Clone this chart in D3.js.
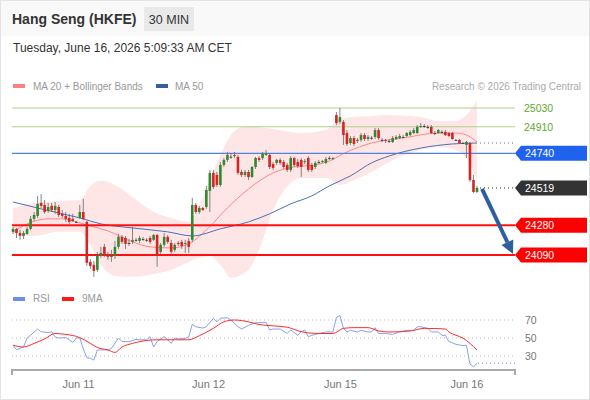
<!DOCTYPE html>
<html>
<head>
<script src="https://cdn.jsdelivr.net/npm/d3@7"></script>
<style>
    body { margin: 0; background: #fff; font-family: 'Liberation Sans', Arial, sans-serif; }
    svg { display: block; }
</style>
</head>
<body>
<div id="chart"></div>
<script>
// 30 min bars, [open, high, low, close]
var candles = [
    [24238,24270,24225,24257],[24257,24263,24199,24231],[24231,24250,24187,24212],[24212,24244,24193,24231],
    [24225,24270,24218,24257],[24257,24340,24250,24321],[24321,24365,24308,24346],[24340,24468,24327,24417],
    [24423,24480,24391,24404],[24410,24442,24353,24365],[24372,24423,24359,24397],[24404,24423,24365,24378],
    [24378,24429,24353,24404],[24397,24410,24333,24346],[24353,24378,24327,24340],[24340,24365,24302,24321],
    [24327,24353,24289,24302],[24321,24353,24302,24308],[24302,24308,24295,24300],[24327,24410,24321,24365],
    [24365,24449,24314,24321],[24302,24308,24020,24040],[24046,24065,24001,24020],[24027,24052,23950,23988],
    [23995,24110,23982,24084],[24084,24142,24072,24103],[24142,24161,24078,24091],[24091,24110,24059,24078],
    [24078,24123,24046,24084],[24084,24180,24065,24142],[24142,24225,24129,24206],[24206,24218,24161,24174],
    [24199,24212,24129,24161],[24167,24193,24148,24165],[24174,24270,24161,24187],[24187,24199,24174,24185],
    [24180,24212,24167,24199],[24193,24206,24180,24190],[24187,24199,24174,24187],[24199,24212,24161,24174],
    [24187,24225,24180,24218],[24218,24225,24014,24091],[24110,24167,24097,24155],[24155,24231,24142,24206],
    [24206,24218,24161,24174],[24167,24187,24097,24110],[24123,24167,24110,24155],[24167,24180,24148,24161],
    [24174,24187,24129,24148],[24161,24187,24103,24167],[24180,24199,24103,24142],[24187,24455,24174,24410],
    [24410,24423,24353,24365],[24365,24404,24353,24391],[24391,24397,24372,24378],[24397,24532,24385,24506],
    [24500,24634,24365,24615],[24615,24634,24512,24525],[24602,24621,24525,24538],[24538,24685,24525,24666],
    [24666,24710,24653,24698],[24698,24749,24685,24730],[24717,24742,24704,24719],[24730,24749,24710,24723],
    [24717,24730,24602,24615],[24621,24634,24589,24602],[24602,24634,24589,24621],[24621,24634,24570,24589],
    [24589,24659,24583,24653],[24653,24717,24640,24710],[24710,24723,24685,24698],[24710,24749,24698,24736],
    [24730,24762,24723,24742],[24730,24736,24640,24653],[24672,24685,24634,24647],[24679,24704,24666,24698],
    [24698,24710,24666,24679],[24685,24698,24640,24653],[24666,24679,24621,24634],[24634,24723,24621,24710],
    [24710,24717,24653,24666],[24685,24704,24647,24659],[24698,24710,24589,24653],[24685,24704,24672,24691],
    [24710,24723,24621,24634],[24666,24679,24621,24634],[24653,24691,24640,24679],[24685,24698,24672,24683],
    [24685,24698,24679,24691],[24679,24717,24672,24704],[24710,24723,24698,24708],[24704,24717,24698,24710],
    [24985,25004,24921,24934],[24941,25030,24928,24972],[24941,24953,24794,24857],[24870,24889,24787,24800],
    [24806,24851,24794,24838],[24838,24851,24787,24800],[24819,24838,24806,24826],[24826,24870,24813,24857],
    [24857,24870,24819,24832],[24832,24857,24819,24845],[24838,24851,24826,24840],[24845,24902,24832,24889],
    [24889,24902,24826,24838],[24826,24838,24813,24824],[24826,24832,24806,24819],[24819,24832,24806,24817],
    [24813,24851,24806,24838],[24832,24857,24826,24845],[24838,24864,24832,24851],[24845,24857,24838,24843],
    [24851,24877,24845,24870],[24857,24889,24851,24877],[24870,24902,24864,24889],[24870,24921,24864,24909],
    [24909,24934,24902,24915],[24915,24928,24902,24913],[24909,24921,24896,24907],[24909,24921,24864,24870],
    [24870,24883,24857,24868],[24870,24896,24864,24889],[24877,24889,24864,24875],[24877,24889,24851,24857],
    [24870,24877,24845,24851],[24870,24877,24826,24832],[24826,24832,24819,24824],[24826,24832,24800,24806],
    [24806,24813,24800,24804],[24794,24819,24710,24813],[24806,24813,24557,24570],[24570,24602,24487,24493],
    [24493,24532,24487,24519]
];

// indicator readings, [bar index, value]
var ma20 = [[0,24238],[4,24289],[10,24321],[14,24321],[18,24302],[22,24276],[27,24244],[34,24174],[39,24142],
    [45,24135],[50,24161],[55,24250],[61,24391],[67,24512],[74,24615],[80,24653],[86,24666],[90,24691],[95,24749],
    [102,24806],[111,24838],[121,24870],[126,24870],[129,24857],[132,24813]];
var ma50 = [[0,24429],[8,24385],[19,24327],[25,24289],[34,24263],[44,24238],[51,24212],[59,24257],[67,24302],
    [73,24353],[79,24417],[85,24468],[90,24532],[96,24596],[102,24679],[107,24723],[116,24774],[125,24800],[132,24806]];
var bbUpper = [[0,24391],[6,24423],[13,24436],[19,24442],[22,24532],[25,24564],[29,24538],[34,24461],[39,24378],
    [45,24327],[50,24302],[53,24410],[56,24570],[59,24730],[62,24857],[65,24909],[67,24915],[70,24909],[74,24896],
    [79,24877],[82,24870],[89,24889],[93,24960],[97,24972],[102,24979],[107,24985],[116,24972],[121,24947],
    [126,24947],[129,24985],[132,25075]];
var bbLower = [[0,24225],[6,24212],[13,24238],[19,24238],[22,24155],[25,24027],[29,23956],[34,23950],[39,23963],
    [45,23995],[50,24046],[53,24072],[56,24084],[59,24027],[62,23944],[65,23963],[67,23995],[70,24123],[74,24378],
    [79,24551],[82,24583],[89,24583],[93,24538],[97,24570],[102,24621],[107,24685],[116,24762],[121,24781],
    [126,24762],[129,24710],[132,24570]];

var rsi = [[0,42],[1,37],[3,40],[4,50],[5,53],[7,60],[8,57],[10,56],[11,57],[12,51],[13,50],[15,50.5],[16,48],
    [17,45],[18,50],[19,50],[20,38],[21,28],[22,27.5],[23,25.5],[24,36.7],[25,36.7],[27,36.7],[28,38.5],[30,50],
    [31,46],[33,46],[35,48.5],[36,48],[38,48],[39,51.5],[40,40],[41,46],[43,51.5],[44,48],[45,44],[46,50],[47,49],
    [49,49.5],[50,51.5],[51,65],[52,62.5],[54,61],[55,62.5],[57,72],[58,68],[59,72],[61,72.5],[62,70],[64,62.5],
    [65,60],[67,64],[69,67],[70,67],[72,67.5],[73,59],[74,60],[76,60],[78,55],[79,59],[81,53],[82,57],[83,59],
    [84,51.5],[85,53],[87,55],[89,56.7],[91,56.7],[92,73],[93,75],[94,61],[95,56.7],[96,58.5],[98,56.7],[99,58.5],
    [101,56.7],[102,56.7],[103,61.5],[104,55],[106,55],[108,54],[110,56.7],[112,58.5],[114,58.5],[115,62.5],
    [116,62.5],[118,60.7],[119,56.7],[121,56.7],[122,53],[123,53],[124,46],[126,43],[128,41.5],[129,42],
    [130,21],[131,18],[132,22]];
var rsiMa = [[0,42],[3,40],[6,44],[9,49],[12,55],[15,54],[19,50.5],[22,44],[24,39.5],[27,36.7],[29,34],[31,40],
    [34,44],[37,46.7],[41,48],[46,48],[50,48],[53,52.5],[57,60.7],[60,68],[63,70],[67,68],[70,65],[74,63.5],
    [78,62],[82,57],[87,55],[91,55],[94,60.7],[97,61.5],[101,61.5],[104,57.8],[107,56.7],[113,57.8],[117,60.7],
    [123,60],[124,56.7],[126,53],[128,50],[130,44],[132,36.7]];

var dayTicks = [18.5, 55.5, 93, 129];
var dayLabels = ["Jun 11", "Jun 12", "Jun 15", "Jun 16"];
var resistances = [25030, 24910];
var pivot = 24740;
var supports = [24280, 24090];
var lastPrice = 24519;
var rsiLevels = [70, 50, 30];

var W = 590, H = 400;
var left = 12, right = 515;

var svg = d3.select("#chart").append("svg")
    .attr("width", W).attr("height", H)
    .style("font-family", "'Liberation Sans', Arial, sans-serif");

// frame + header
svg.append("rect").attr("x", 0.5).attr("y", 0.5).attr("width", W - 1).attr("height", H - 1)
    .attr("fill", "#fff").attr("stroke", "#e4e4e4");
svg.append("rect").attr("x", 1).attr("y", 1).attr("width", W - 2).attr("height", 35).attr("fill", "#f9f9f9");
svg.append("text").attr("x", 12).attr("y", 24).attr("font-size", 14).attr("font-weight", "bold")
    .attr("fill", "#333").text("Hang Seng (HKFE)");
svg.append("rect").attr("x", 144).attr("y", 7).attr("width", 50).attr("height", 24).attr("fill", "#e9e9e9");
svg.append("text").attr("x", 169).attr("y", 23.5).attr("text-anchor", "middle").attr("font-size", 12.5)
    .attr("fill", "#333").text("30 MIN");
svg.append("text").attr("x", 13).attr("y", 52).attr("font-size", 12).attr("fill", "#333")
    .text("Tuesday, June 16, 2026 5:09:33 AM CET");

// legend
svg.append("rect").attr("x", 13).attr("y", 84).attr("width", 12).attr("height", 4).attr("fill", "#ff8080");
svg.append("text").attr("x", 33).attr("y", 90).attr("font-size", 10).attr("fill", "#999").text("MA 20 + Bollinger Bands");
svg.append("rect").attr("x", 156).attr("y", 84).attr("width", 12).attr("height", 4).attr("fill", "#345e9e");
svg.append("text").attr("x", 175).attr("y", 90).attr("font-size", 10).attr("fill", "#999").text("MA 50");
svg.append("text").attr("x", 581).attr("y", 90).attr("text-anchor", "end").attr("font-size", 10)
    .attr("fill", "#aaa").text("Research \u00a9 2026 Trading Central");

var x = d3.scaleLinear().domain([0, candles.length - 1]).range([13, 477]);
var y = d3.scaleLinear().domain([24090, 25030]).range([255, 108]);

// bollinger band + moving averages
var band = bbUpper.map(function (d, i) { return [d[0], d[1], bbLower[i][1]]; });
svg.append("path").datum(band)
    .attr("d", d3.area().curve(d3.curveMonotoneX)
        .x(function (d) { return x(d[0]); })
        .y0(function (d) { return y(d[2]); })
        .y1(function (d) { return y(d[1]); }))
    .attr("fill", "#ffe2e2").attr("opacity", 0.85);

var line = d3.line().curve(d3.curveMonotoneX)
    .x(function (d) { return x(d[0]); })
    .y(function (d) { return y(d[1]); });
svg.append("path").datum(ma20).attr("d", line).attr("fill", "none").attr("stroke", "#ff8585").attr("stroke-width", 1);
svg.append("path").datum(ma50).attr("d", line).attr("fill", "none").attr("stroke", "#4a70b4").attr("stroke-width", 1);

// level lines
resistances.forEach(function (v) {
    svg.append("line").attr("x1", left).attr("x2", right).attr("y1", y(v)).attr("y2", y(v))
        .attr("stroke", "#a9d38c").attr("stroke-width", 1);
    svg.append("text").attr("x", 524).attr("y", y(v)).attr("dy", "0.36em").attr("font-size", 10.5)
        .attr("fill", "#62a82e").text(v);
});
svg.append("line").attr("x1", left).attr("x2", right).attr("y1", y(pivot)).attr("y2", y(pivot))
    .attr("stroke", "#4f80e6").attr("stroke-width", 1.4);
supports.forEach(function (v) {
    svg.append("line").attr("x1", left).attr("x2", right).attr("y1", y(v)).attr("y2", y(v))
        .attr("stroke", "#ff1010").attr("stroke-width", 2);
});

// dotted extensions
svg.append("line").attr("x1", x(candles.length - 1) + 3).attr("x2", right)
    .attr("y1", y(ma50[ma50.length - 1][1])).attr("y2", y(ma50[ma50.length - 1][1]))
    .attr("stroke", "#4a6a9a").attr("stroke-dasharray", "1,3");
svg.append("line").attr("x1", x(candles.length - 1) + 3).attr("x2", right)
    .attr("y1", y(lastPrice)).attr("y2", y(lastPrice))
    .attr("stroke", "#333").attr("stroke-dasharray", "1,3");

// candles
var bw = 2.6;
var g = svg.append("g");
candles.forEach(function (d, i) {
    var o = d[0], h = d[1], l = d[2], c = d[3];
    var cx = x(i);
    g.append("line").attr("x1", cx).attr("x2", cx).attr("y1", y(h)).attr("y2", y(l))
        .attr("stroke", "#666").attr("stroke-width", 0.8);
    var top = y(Math.max(o, c)), bot = y(Math.min(o, c));
    var col = Math.abs(o - c) < 4 ? "#444" : (c > o ? "#2f8a2f" : "#d42424");
    g.append("rect").attr("x", cx - bw / 2).attr("y", top).attr("width", bw)
        .attr("height", Math.max(1, bot - top)).attr("fill", col);
});

// projection arrow
var ax1 = x(candles.length - 1) + 5, ay1 = y(lastPrice) + 1;
var ax2 = right - 2, ay2 = y(supports[1]) - 1;
var ang = Math.atan2(ay2 - ay1, ax2 - ax1);
var hl = 13, hw = 6.5;
var bx = ax2 - hl * Math.cos(ang), by = ay2 - hl * Math.sin(ang);
svg.append("line").attr("x1", ax1).attr("y1", ay1).attr("x2", bx).attr("y2", by)
    .attr("stroke", "#2e5e9e").attr("stroke-width", 4);
svg.append("path")
    .attr("d", "M" + ax2 + "," + ay2 +
        "L" + (bx + hw * Math.sin(ang)) + "," + (by - hw * Math.cos(ang)) +
        "L" + (bx - hw * Math.sin(ang)) + "," + (by + hw * Math.cos(ang)) + "Z")
    .attr("fill", "#2e5e9e");

// price tags
function tag(v, fill) {
    var cy = y(v);
    svg.append("path")
        .attr("d", "M515," + cy + "L521," + (cy - 7.5) + "L587," + (cy - 7.5) + "L587," + (cy + 7.5) + "L521," + (cy + 7.5) + "Z")
        .attr("fill", fill);
    svg.append("text").attr("x", 525).attr("y", cy).attr("dy", "0.36em").attr("font-size", 10.5)
        .attr("fill", "#fff").text(v);
}
tag(pivot, "#1f62ef");
tag(lastPrice, "#333");
supports.forEach(function (v) { tag(v, "#ff0000"); });

// RSI panel
var ry = d3.scaleLinear().domain([30, 70]).range([356, 320]);
svg.append("rect").attr("x", 13).attr("y", 297).attr("width", 12).attr("height", 4).attr("fill", "#6d8fe6");
svg.append("text").attr("x", 33).attr("y", 302).attr("font-size", 10).attr("fill", "#999").text("RSI");
svg.append("rect").attr("x", 62).attr("y", 297).attr("width", 12).attr("height", 4).attr("fill", "#ff1a1a");
svg.append("text").attr("x", 82).attr("y", 302).attr("font-size", 10).attr("fill", "#999").text("9MA");

rsiLevels.forEach(function (v) {
    svg.append("line").attr("x1", left).attr("x2", right).attr("y1", ry(v)).attr("y2", ry(v))
        .attr("stroke", "#bbb").attr("stroke-dasharray", "1,3");
    svg.append("text").attr("x", 525).attr("y", ry(v)).attr("dy", "0.36em").attr("font-size", 10.5)
        .attr("fill", "#777").text(v);
});

var rline = d3.line()
    .x(function (d) { return x(d[0]); })
    .y(function (d) { return ry(d[1]); });
svg.append("path").datum(rsi).attr("d", rline).attr("fill", "none").attr("stroke", "#86a2ea").attr("stroke-width", 1);
svg.append("path").datum(rsiMa).attr("d", rline.curve(d3.curveMonotoneX)).attr("fill", "none")
    .attr("stroke", "#ff2a2a").attr("stroke-width", 1);
svg.append("line").attr("x1", x(candles.length - 1) + 1).attr("x2", right)
    .attr("y1", ry(rsi[rsi.length - 1][1])).attr("y2", ry(rsi[rsi.length - 1][1]))
    .attr("stroke", "#6d8fe6").attr("stroke-dasharray", "1,3");

// date axis
var xaxis = d3.axisBottom(x).tickValues(dayTicks)
    .tickFormat(function (d, i) { return dayLabels[i]; })
    .tickSize(0).tickPadding(10);
var ax = svg.append("g").attr("transform", "translate(0,370)").call(xaxis);
ax.select(".domain").remove();
ax.selectAll("text").attr("font-size", 11).attr("fill", "#777")
    .style("font-family", "'Liberation Sans', Arial, sans-serif");
svg.append("path").attr("d", "M" + left + ",375V370H" + right + "V375")
    .attr("fill", "none").attr("stroke", "#aaa").attr("stroke-width", 2);
</script>
</body>
</html>
